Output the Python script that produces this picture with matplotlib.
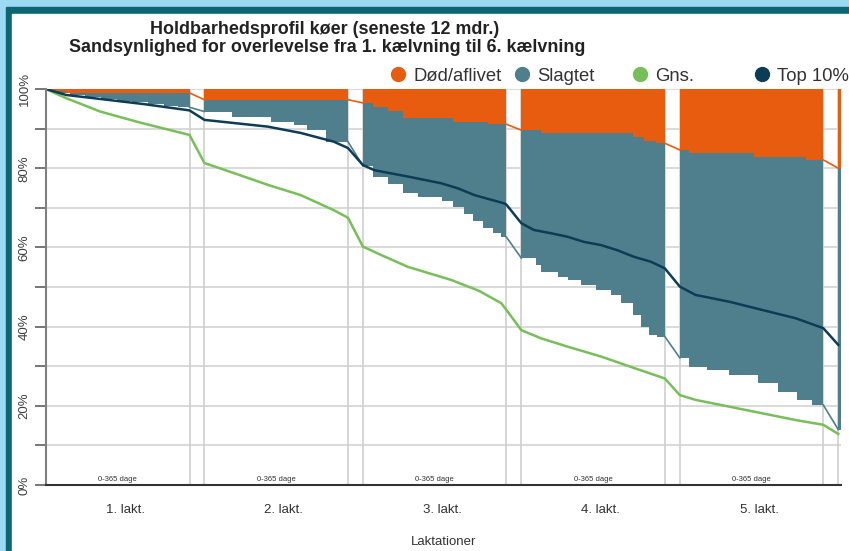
import numpy as np
import matplotlib.pyplot as plt
from matplotlib.patches import Rectangle
from matplotlib.lines import Line2D

plt.rcParams['font.family'] = ['Liberation Sans', 'DejaVu Sans']

# x-akse i dage: hver laktation er 0-365 dage, derefter goldperiode til naeste kaelvning
lakt_navne = ["1. lakt.", "2. lakt.", "3. lakt.", "4. lakt.", "5. lakt."]
lakt_start = [0, 403, 806, 1209, 1612]
lakt_laengde = 365
kaelvning_6 = 2015

# Gns. (landsgennemsnit)
gns_dage = [0, 26, 51, 138, 240, 365,
            403, 477, 564, 648, 732, 768,
            806, 852, 920, 1030, 1102, 1158, 1171,
            1209, 1260, 1328, 1413, 1497, 1574,
            1612, 1652, 1737, 1822, 1907, 1977, 2015]
gns_pct = [100, 98.8, 97.7, 94.3, 91.5, 88.4,
           81.3, 78.8, 75.8, 73.2, 69.4, 67.5,
           60.2, 58.1, 55.1, 51.8, 49.0, 45.9, 44.2,
           39.1, 37.0, 34.9, 32.4, 29.5, 26.9,
           22.7, 21.5, 19.8, 18.1, 16.4, 15.2, 12.9]

# Top 10%
top_dage = [0, 51, 248, 365,
            403, 564, 648, 732, 768,
            806, 835, 920, 1005, 1048, 1090, 1166, 1171,
            1209, 1241, 1283, 1326, 1368, 1411, 1453, 1496, 1538, 1574,
            1612, 1652, 1737, 1822, 1907, 1977, 2015]
top_pct = [100, 98.5, 96.2, 94.6,
           92.2, 90.5, 88.9, 86.7, 85.1,
           80.8, 79.5, 77.9, 76.2, 74.9, 73.2, 71.1, 70.8,
           66.1, 64.4, 63.6, 62.7, 61.4, 60.6, 59.3, 57.6, 56.4, 54.7,
           50.1, 48.0, 46.3, 44.2, 42.1, 39.6, 35.4]

# besaetningens egne trin: 100% minus doede/aflivede (dag i laktationen, pct)
doed_dag = [[0, 20, 50], [0], [0, 26, 63, 101, 229, 318],
            [0, 49, 283, 313, 342], [0, 23, 189, 320]]
doed_pct = [[99.8, 99.5, 99.0], [97.3], [96.5, 95.5, 94.5, 92.7, 91.7, 91.1],
            [89.6, 89.0, 88.0, 86.9, 86.3], [84.6, 83.9, 82.9, 82.1]]

# overlevende (under slagtet-omraadet)
overlev_dag = [[0, 10, 30, 60, 100, 140, 180, 220, 260, 300, 335],
               [0, 71, 168, 228, 260, 309],
               [0, 26, 64, 102, 140, 200, 230, 258, 281, 306, 332, 350],
               [0, 37, 49, 93, 118, 152, 190, 228, 254, 284, 305, 325, 345],
               [0, 23, 70, 125, 198, 250, 298, 335]]
overlev_pct = [[100, 99.3, 98.9, 98.4, 97.9, 97.4, 97.0, 96.6, 96.2, 95.8, 95.4],
               [94.3, 92.9, 91.7, 90.9, 89.6, 86.7],
               [80.6, 77.8, 76.0, 73.8, 72.8, 71.8, 70.2, 68.5, 66.6, 65.0, 63.6, 62.6],
               [57.3, 55.6, 53.9, 52.6, 51.8, 50.5, 49.2, 48.0, 46.0, 42.9, 40.0, 37.9, 37.5],
               [32.1, 29.9, 29.0, 27.8, 25.7, 23.6, 21.5, 20.2]]

# ved 6. kaelvning
kaelv6_doed = 80.0
kaelv6_overlev = 14.0

orange = "#E85C0F"
slate = "#4F7F8C"
groen = "#77BF58"
navy = "#0D3C57"
lyseblaa = "#9DD9F2"
teal = "#0C6773"

W, H = 849, 551
fig = plt.figure(figsize=(W / 100, H / 100), dpi=100, facecolor=lyseblaa)
fig.add_artist(Rectangle((6 / W, 0), 1, (H - 7) / H, transform=fig.transFigure,
                         color=teal, zorder=-5))
fig.add_artist(Rectangle((12 / W, 0), 1, (H - 14) / H, transform=fig.transFigure,
                         color="white", zorder=-4))

ax = fig.add_axes([46 / W, 66 / H, (841 - 46) / W, (485 - 89) / H])
ax.set_facecolor("none")
ax.set_xlim(0, 2022)
ax.set_ylim(0, 100)

# trinvise omraader pr. laktation
for k, s in enumerate(lakt_start):
    x = s + np.array(overlev_dag[k] + [lakt_laengde])
    y = overlev_pct[k] + [overlev_pct[k][-1]]
    ax.fill_between(x, 100, y, step='post', color=slate, lw=0, zorder=2)
    x = s + np.array(doed_dag[k] + [lakt_laengde])
    y = doed_pct[k] + [doed_pct[k][-1]]
    ax.fill_between(x, 100, y, step='post', color=orange, lw=0, zorder=3)

    # goldperiode: tynde linjer til naeste kaelvning
    if k < len(lakt_start) - 1:
        nx = lakt_start[k + 1]
        nd, no = doed_pct[k + 1][0], overlev_pct[k + 1][0]
    else:
        nx = kaelvning_6
        nd, no = kaelv6_doed, kaelv6_overlev
    ax.plot([s + lakt_laengde, nx], [doed_pct[k][-1], nd], color=orange, lw=1.2, zorder=4)
    ax.plot([s + lakt_laengde, nx], [overlev_pct[k][-1], no], color=slate, lw=1.2, zorder=4)

ax.fill_between([kaelvning_6, 2022], 100, kaelv6_doed, color=orange, lw=0, zorder=3)
ax.fill_between([kaelvning_6, 2022], kaelv6_doed, kaelv6_overlev, color=slate, lw=0, zorder=2)

ax.plot(gns_dage, gns_pct, color=groen, lw=1.8, zorder=5)
ax.plot(top_dage, top_pct, color=navy, lw=1.8, zorder=6)

# gitter
ax.set_yticks(np.arange(0, 101, 20))
ax.set_yticks(np.arange(10, 100, 20), minor=True)
ax.set_yticklabels([f"{v}%" for v in range(0, 101, 20)], rotation=90, va='center',
                   fontsize=9.5, color="#404040")
ax.grid(axis='y', which='both', color="#D0D0D0", lw=1.1, zorder=0)
ax.tick_params(axis='y', which='both', length=8, width=1.2, color="#606060", pad=3)
for s in lakt_start:
    ax.axvline(s, color="#D6D6D6", lw=1.4, zorder=0)
    ax.axvline(s + lakt_laengde, color="#D6D6D6", lw=1.4, zorder=0)
    ax.text(s + lakt_laengde / 2, 0.4, "0-365 dage", fontsize=5.5, ha='center',
            va='bottom', color="#333333")
ax.axvline(kaelvning_6, color="#D6D6D6", lw=1.4, zorder=0)

ax.set_xticks([s + (lakt_start[1] - lakt_start[0]) / 2 for s in lakt_start])
ax.set_xticklabels(lakt_navne, fontsize=9.5, color="#333333")
ax.tick_params(axis='x', length=0, pad=14)
ax.set_xlabel("Laktationer", fontsize=9.5, color="#333333", labelpad=14)

for side in ["top", "right"]:
    ax.spines[side].set_visible(False)
ax.spines["left"].set_color("#808080")
ax.spines["left"].set_linewidth(1.5)
ax.spines["bottom"].set_color("#333333")
ax.spines["bottom"].set_linewidth(1.5)
ax.spines["left"].set_zorder(7)
ax.spines["bottom"].set_zorder(7)

fig.text(325 / W, 1 - 29 / H, "Holdbarhedsprofil køer (seneste 12 mdr.)",
         ha='center', va='center', fontsize=12.9, fontweight='bold', color="#222222")
fig.text(327 / W, 1 - 48 / H,
         "Sandsynlighed for overlevelse fra 1. kælvning til 6. kælvning",
         ha='center', va='center', fontsize=12.9, fontweight='bold', color="#222222")

# legende: fire faste pladser
legend_navne = ["Død/aflivet", "Slagtet", "Gns.", "Top 10%"]
legend_farver = [orange, slate, groen, navy]
legend_x = [389, 513, 631, 753]
for navn, farve, lx in zip(legend_navne, legend_farver, legend_x):
    h = Line2D([], [], marker='o', ls='none', color=farve, markersize=10)
    fig.legend(handles=[h], labels=[navn], loc='center left',
               bbox_to_anchor=(lx / W, 1 - 76 / H), frameon=False, fontsize=13.3,
               handlelength=1.0, handletextpad=0.3, borderpad=0, borderaxespad=0,
               labelcolor="#333333")

fig.savefig("out.png", dpi=100, facecolor=fig.get_facecolor())
